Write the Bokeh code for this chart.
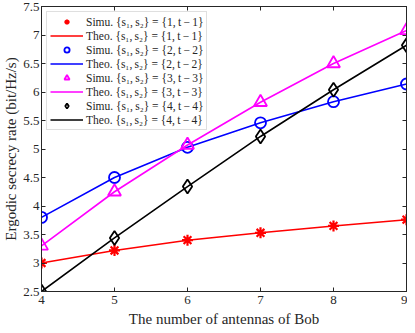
from bokeh.plotting import figure
from bokeh.models import LinearAxis, FixedTicker, Legend, LegendItem, CustomJSTickFormatter, Range1d
from bokeh.embed import file_html
from bokeh.resources import INLINE

antennas = [4, 5, 6, 7, 8, 9]
s1 = [3.00, 3.22, 3.40, 3.53, 3.65, 3.76]
s2 = [3.80, 4.50, 5.03, 5.46, 5.83, 6.14]
s3 = [3.30, 4.25, 5.07, 5.82, 6.50, 7.08]
s4 = [2.50, 3.44, 4.34, 5.22, 6.04, 6.82]

x_ticks = [4, 5, 6, 7, 8, 9]
y_ticks = [2.5, 3, 3.5, 4, 4.5, 5, 5.5, 6, 6.5, 7, 7.5]

T = "\u2009"
labels_simu = [f"Simu. {{s\u2081,{T}s\u2082}} = {{{k},{T}t{T}\u2212{T}{k}}}" for k in (1, 2, 3, 4)]
labels_theo = [f"Theo. {{s\u2081,{T}s\u2082}} = {{{k},{T}t{T}\u2212{T}{k}}}" for k in (1, 2, 3, 4)]

FONT = "Liberation Serif"
AX = "#262626"

p = figure(width=407, height=329, output_backend="svg", toolbar_location=None,
           x_range=Range1d(4, 9), y_range=Range1d(2.5, 7.5),
           min_border_left=30, min_border_right=1, min_border_top=6, min_border_bottom=30)
p.background_fill_color = "white"
p.border_fill_color = "white"
p.outline_line_color = AX
p.outline_line_width = 1
p.xgrid.visible = False
p.ygrid.visible = False

fmt = CustomJSTickFormatter(code="return String(Math.round(tick*10)/10);")
blank = CustomJSTickFormatter(code="return '';")

for ax in p.xaxis:
    ax.ticker = FixedTicker(ticks=x_ticks)
    ax.axis_label = "The number of antennas of Bob"
for ax in p.yaxis:
    ax.ticker = FixedTicker(ticks=y_ticks)
    ax.axis_label = "Ergodic secrecy rate (bit/Hz/s)"

for ax in list(p.xaxis) + list(p.yaxis):
    ax.formatter = fmt
    ax.major_tick_in = 4
    ax.major_tick_out = 0
    ax.minor_tick_line_color = None
    ax.axis_line_color = AX
    ax.major_tick_line_color = AX
    ax.major_label_text_font = FONT
    ax.major_label_text_font_size = "13px"
    ax.major_label_text_color = AX
    ax.axis_label_text_font = FONT
    ax.axis_label_text_font_size = "15px"
    ax.axis_label_text_font_style = "normal"
    ax.axis_label_text_color = AX
p.xaxis.major_label_standoff = 4
p.xaxis.axis_label_standoff = 4
p.yaxis.major_label_standoff = 2
p.yaxis.axis_label_standoff = 1

top = LinearAxis(ticker=FixedTicker(ticks=x_ticks), formatter=blank, major_tick_in=4, major_tick_out=0,
                 minor_tick_line_color=None, axis_line_color=AX, major_tick_line_color=AX,
                 major_label_standoff=0, axis_label_standoff=0, major_label_text_font_size="1px")
right = LinearAxis(ticker=FixedTicker(ticks=y_ticks), formatter=blank, major_tick_in=4, major_tick_out=0,
                   minor_tick_line_color=None, axis_line_color=AX, major_tick_line_color=AX,
                   major_label_standoff=0, axis_label_standoff=0, major_label_text_font_size="1px")
p.add_layout(top, "above")
p.add_layout(right, "right")

series = [s1, s2, s3, s4]
colors = ["#ff0000", "#0000ff", "#ff00ff", "#000000"]
markers = ["asterisk", "circle", "triangle", "diamond"]
sizes = [11, 11, 13, 14]

items = []
for i, (ys, c, m, sz) in enumerate(zip(series, colors, markers, sizes)):
    ln = p.line(antennas, ys, line_color=c, line_width=1.6)
    if m == "asterisk":
        sc = p.scatter(antennas, ys, marker=m, size=sz, line_color=c, line_width=2.2)
    else:
        sc = p.scatter(antennas, ys, marker=m, size=sz, line_color=c, fill_color=None,
                       line_width=1.8)
    items.append(LegendItem(label=labels_simu[i], renderers=[sc]))
    items.append(LegendItem(label=labels_theo[i], renderers=[ln]))

legend = Legend(items=items, location="top_left")
legend.label_text_font = FONT
legend.label_text_font_size = "11.5px"
legend.label_text_color = AX
legend.label_height = 12
legend.glyph_height = 13
legend.glyph_width = 33
legend.spacing = 1
legend.padding = 3
legend.margin = 5
legend.label_standoff = 3
legend.border_line_color = "#bfbfbf"
legend.border_line_width = 1
legend.background_fill_color = "white"
legend.background_fill_alpha = 1
p.add_layout(legend)

open("out.html", "w").write(file_html(p, INLINE))
